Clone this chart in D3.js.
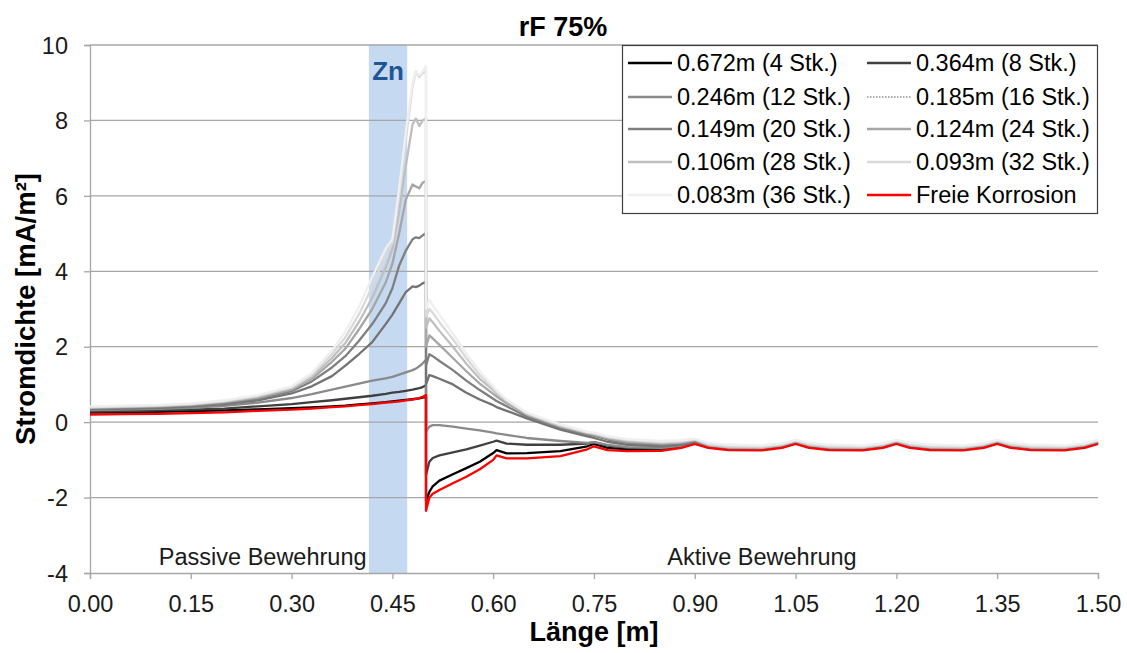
<!DOCTYPE html>
<html><head><meta charset="utf-8">
<script src="https://cdn.jsdelivr.net/npm/d3@7"></script>
<style>
body{margin:0;background:#fff}
svg{display:block}
text{font-family:"Liberation Sans",Arial,Helvetica,sans-serif}
</style>
</head><body>
<svg id="c" width="1127" height="653"></svg>
<script>
// ---------- data ----------
const xPassive = [0, 0.05, 0.1, 0.15, 0.2, 0.25, 0.3, 0.33, 0.36, 0.38, 0.4, 0.42, 0.44, 0.45, 0.46, 0.47, 0.48, 0.485, 0.49, 0.495, 0.5];
const xActive = [0.5, 0.505, 0.51, 0.52, 0.54, 0.56, 0.58, 0.6, 0.605, 0.62, 0.65, 0.7, 0.74, 0.75, 0.77, 0.8, 0.85, 0.88, 0.9,
  0.92, 0.95, 1.0, 1.03, 1.05, 1.07, 1.1, 1.15, 1.18, 1.2, 1.22, 1.25, 1.3, 1.33, 1.35, 1.37, 1.4, 1.45, 1.48, 1.5];

const s4 = [0.25, 0.26, 0.27, 0.29, 0.31, 0.34, 0.37, 0.39, 0.42, 0.44, 0.47, 0.5, 0.53, 0.55, 0.57, 0.59, 0.61, 0.62, 0.63, 0.65, 0.68,
  -2.1, -1.85, -1.7, -1.55, -1.38, -1.22, -1.05, -0.82, -0.74, -0.83, -0.82, -0.77, -0.64, -0.58, -0.68, -0.72, -0.72, -0.66, -0.57,
  -0.66, -0.72, -0.73, -0.66, -0.56, -0.66, -0.72, -0.73, -0.66, -0.56, -0.66, -0.72, -0.73, -0.66, -0.56, -0.66, -0.72, -0.73, -0.66, -0.56];
const s8 = [0.28, 0.29, 0.31, 0.33, 0.36, 0.42, 0.48, 0.53, 0.58, 0.62, 0.66, 0.7, 0.75, 0.78, 0.8, 0.83, 0.86, 0.88, 0.9, 0.93, 0.98,
  -1.4, -1.05, -0.95, -0.88, -0.8, -0.72, -0.62, -0.52, -0.49, -0.57, -0.6, -0.6, -0.57, -0.53, -0.62, -0.68, -0.7, -0.64, -0.56,
  -0.65, -0.71, -0.72, -0.65, -0.55, -0.65, -0.71, -0.72, -0.65, -0.55, -0.65, -0.71, -0.72, -0.65, -0.55, -0.65, -0.71, -0.72, -0.65, -0.55];
const s12 = [0.32, 0.33, 0.35, 0.38, 0.43, 0.52, 0.64, 0.74, 0.86, 0.94, 1.02, 1.1, 1.16, 1.2, 1.26, 1.32, 1.38, 1.42, 1.48, 1.56, 1.65,
  -0.25, -0.12, -0.08, -0.08, -0.12, -0.17, -0.22, -0.28, -0.3, -0.34, -0.42, -0.5, -0.55, -0.53, -0.6, -0.66, -0.68, -0.63, -0.55,
  -0.64, -0.7, -0.71, -0.64, -0.54, -0.64, -0.7, -0.71, -0.64, -0.54, -0.64, -0.7, -0.71, -0.64, -0.54, -0.64, -0.7, -0.71, -0.64, -0.54];
const s16 = [0.35, 0.36, 0.38, 0.42, 0.48, 0.58, 0.76, 0.95, 1.22, 1.5, 1.8, 2.12, 2.6, 2.85, 3.15, 3.45, 3.6, 3.58, 3.62, 3.68, 3.72,
  1.0, 1.25, 1.22, 1.15, 1.0, 0.78, 0.6, 0.45, 0.4, 0.3, 0.1, -0.2, -0.38, -0.42, -0.52, -0.6, -0.64, -0.6, -0.53,
  -0.63, -0.69, -0.7, -0.63, -0.53, -0.63, -0.69, -0.7, -0.63, -0.53, -0.63, -0.69, -0.7, -0.63, -0.53, -0.63, -0.69, -0.7, -0.63, -0.53];
const s20 = [0.37, 0.38, 0.4, 0.44, 0.5, 0.62, 0.82, 1.08, 1.45, 1.75, 2.15, 2.6, 3.15, 3.55, 4.15, 4.55, 4.85, 4.9, 4.88, 4.95, 5.02,
  1.5, 1.8, 1.75, 1.62, 1.38, 1.1, 0.85, 0.62, 0.56, 0.42, 0.15, -0.15, -0.33, -0.36, -0.46, -0.55, -0.6, -0.57, -0.5,
  -0.62, -0.68, -0.69, -0.62, -0.52, -0.62, -0.68, -0.69, -0.62, -0.52, -0.62, -0.68, -0.69, -0.62, -0.52, -0.62, -0.68, -0.69, -0.62, -0.52];
const s24 = [0.38, 0.4, 0.42, 0.46, 0.53, 0.65, 0.86, 1.15, 1.6, 1.95, 2.45, 3.0, 3.7, 4.2, 5.0, 5.9, 6.3, 6.25, 6.2, 6.35, 6.4,
  2.0, 2.3, 2.22, 2.05, 1.7, 1.35, 1.02, 0.75, 0.68, 0.5, 0.2, -0.12, -0.3, -0.33, -0.43, -0.52, -0.57, -0.54, -0.48,
  -0.61, -0.67, -0.68, -0.61, -0.51, -0.61, -0.67, -0.68, -0.61, -0.51, -0.61, -0.67, -0.68, -0.61, -0.51, -0.61, -0.67, -0.68, -0.61, -0.51];
const s28 = [0.39, 0.41, 0.43, 0.47, 0.55, 0.68, 0.9, 1.2, 1.7, 2.1, 2.65, 3.3, 4.1, 4.6, 5.6, 6.8, 7.9, 8.05, 7.85, 8.0, 8.05,
  2.5, 2.75, 2.65, 2.42, 2.0, 1.55, 1.15, 0.85, 0.76, 0.55, 0.22, -0.1, -0.28, -0.31, -0.4, -0.49, -0.55, -0.52, -0.46,
  -0.6, -0.66, -0.67, -0.6, -0.5, -0.6, -0.66, -0.67, -0.6, -0.5, -0.6, -0.66, -0.67, -0.6, -0.5, -0.6, -0.66, -0.67, -0.6, -0.5];
const s32 = [0.4, 0.42, 0.44, 0.48, 0.56, 0.7, 0.92, 1.25, 1.8, 2.25, 2.85, 3.6, 4.45, 4.75, 6.0, 7.5, 8.9, 9.3, 9.15, 9.25, 9.3,
  2.8, 3.0, 2.9, 2.65, 2.2, 1.7, 1.25, 0.9, 0.8, 0.58, 0.24, -0.08, -0.27, -0.3, -0.39, -0.47, -0.53, -0.5, -0.45,
  -0.58, -0.64, -0.65, -0.58, -0.48, -0.58, -0.64, -0.65, -0.58, -0.48, -0.58, -0.64, -0.65, -0.58, -0.48, -0.58, -0.64, -0.65, -0.58, -0.48];
const s36 = [0.42, 0.44, 0.46, 0.5, 0.58, 0.72, 0.95, 1.3, 1.9, 2.4, 3.05, 3.85, 4.6, 4.85, 6.2, 7.7, 9.0, 9.3, 9.2, 9.3, 9.45,
  3.0, 3.25, 3.1, 2.85, 2.35, 1.82, 1.35, 0.95, 0.85, 0.6, 0.25, -0.06, -0.25, -0.28, -0.37, -0.45, -0.5, -0.48, -0.44,
  -0.55, -0.6, -0.62, -0.56, -0.47, -0.55, -0.6, -0.62, -0.56, -0.47, -0.55, -0.6, -0.62, -0.56, -0.47, -0.55, -0.6, -0.62, -0.56, -0.47];
const sFree = [0.2, 0.21, 0.22, 0.24, 0.26, 0.3, 0.33, 0.36, 0.4, 0.42, 0.45, 0.48, 0.52, 0.53, 0.55, 0.58, 0.6, 0.62, 0.64, 0.67, 0.72,
  -2.35, -2.0, -1.9, -1.8, -1.62, -1.45, -1.25, -1.0, -0.88, -0.96, -0.96, -0.9, -0.72, -0.64, -0.74, -0.77, -0.76, -0.68, -0.58,
  -0.68, -0.74, -0.75, -0.68, -0.58, -0.68, -0.74, -0.75, -0.68, -0.58, -0.68, -0.74, -0.75, -0.68, -0.58, -0.68, -0.74, -0.75, -0.68, -0.58];

const seriesNames = ["0.672m (4 Stk.)", "0.364m (8 Stk.)", "0.246m (12 Stk.)", "0.185m (16 Stk.)", "0.149m (20 Stk.)",
  "0.124m (24 Stk.)", "0.106m (28 Stk.)", "0.093m (32 Stk.)", "0.083m (36 Stk.)", "Freie Korrosion"];
const seriesValues = [s4, s8, s12, s16, s20, s24, s28, s32, s36, sFree];
const seriesColors = ["#000000", "#404040", "#8a8a8a", "#737373", "#7f7f7f", "#a6a6a6", "#bfbfbf", "#d9d9d9", "#efefef", "#ff0000"];

const xTicks = [0, 0.15, 0.3, 0.45, 0.6, 0.75, 0.9, 1.05, 1.2, 1.35, 1.5];
const yTicks = [-4, -2, 0, 2, 4, 6, 8, 10];
const znBand = [0.415, 0.472];
const title = "rF 75%";
const xTitle = "Länge [m]";
const yTitle = "Stromdichte [mA/m²]";

// ---------- chart ----------
const X = xPassive.concat(xActive);
const svg = d3.select("#c");
const L = 90, R = 1098, T = 45, B = 573;
const x = d3.scaleLinear().domain([0, 1.5]).range([L, R]);
const y = d3.scaleLinear().domain([-4, 10]).range([B, T]);

// Zn band
svg.append("rect").attr("x", x(znBand[0])).attr("y", T)
  .attr("width", x(znBand[1]) - x(znBand[0])).attr("height", B - T)
  .attr("fill", "#c5d9f1");

// grid
svg.append("g").selectAll("line").data(yTicks.filter(d => d > -4)).join("line")
  .attr("x1", L).attr("x2", R).attr("y1", d => y(d)).attr("y2", d => y(d))
  .attr("stroke", "#a6a6a6").attr("stroke-width", 1.3);

// axes
const xAxis = svg.append("g").attr("transform", `translate(0,${B})`)
  .call(d3.axisBottom(x).tickValues(xTicks).tickFormat(d => d.toFixed(2)).tickSize(6).tickPadding(16));
const yAxis = svg.append("g").attr("transform", `translate(${L},0)`)
  .call(d3.axisLeft(y).tickValues(yTicks).tickFormat(d => String(d)).tickSize(6).tickPadding(16));
[xAxis, yAxis].forEach(a => {
  a.select(".domain").attr("stroke", "#a6a6a6").attr("stroke-width", 1.3);
  a.selectAll(".tick line").attr("stroke", "#a6a6a6").attr("stroke-width", 1.3);
  a.selectAll(".tick text").attr("font-size", 23.5).attr("fill", "#1a1a1a")
    .attr("font-family", '"Liberation Sans",Arial,sans-serif');
});
yAxis.selectAll(".tick text").attr("dy", "0.35em");

// region labels
svg.append("text").attr("x", x(0.257)).attr("y", 565).attr("text-anchor", "middle")
  .attr("font-size", 23.5).attr("fill", "#1a1a1a").text("Passive Bewehrung");
svg.append("text").attr("x", x(1.0)).attr("y", 565).attr("text-anchor", "middle")
  .attr("font-size", 23.5).attr("fill", "#1a1a1a").text("Aktive Bewehrung");

// Zn label
svg.append("text").attr("x", (x(znBand[0]) + x(znBand[1])) / 2).attr("y", 80).attr("text-anchor", "middle")
  .attr("font-size", 26).attr("font-weight", "bold").attr("fill", "#1f5597").text("Zn");

// lines
const line = d3.line().x((d, i) => x(X[i])).y(d => y(d));
seriesValues.forEach((vals, k) => {
  svg.append("path").datum(vals).attr("d", line)
    .attr("fill", "none").attr("stroke", seriesColors[k])
    .attr("stroke-width", 2.3).attr("stroke-linejoin", "round");
});

// titles
svg.append("text").attr("x", 563).attr("y", 36).attr("text-anchor", "middle")
  .attr("font-size", 27).attr("font-weight", "bold").attr("fill", "#000").text(title);
svg.append("text").attr("x", (L + R) / 2).attr("y", 641).attr("text-anchor", "middle")
  .attr("font-size", 27).attr("font-weight", "bold").attr("fill", "#000").text(xTitle);
svg.append("text").attr("transform", `translate(35,${(T + B) / 2}) rotate(-90)`).attr("text-anchor", "middle")
  .attr("font-size", 27.5).attr("font-weight", "bold").attr("fill", "#000").text(yTitle);

// legend
const lg = svg.append("g");
lg.append("rect").attr("x", 622.5).attr("y", 45.5).attr("width", 475).attr("height", 168)
  .attr("fill", "#fff").attr("stroke", "#404040").attr("stroke-width", 1.2);
const colX = [628, 867], rowY = [63, 97, 129, 162, 195];
seriesNames.forEach((name, k) => {
  const cx = colX[k % 2], cy = rowY[Math.floor(k / 2)];
  lg.append("line").attr("x1", cx).attr("x2", cx + 44).attr("y1", cy).attr("y2", cy)
    .attr("stroke", k === 3 ? "#595959" : seriesColors[k]).attr("stroke-width", k === 3 ? 1.2 : 2.3)
    .attr("stroke-dasharray", k === 3 ? "1.5,1.5" : null);
  lg.append("text").attr("x", cx + 49).attr("y", cy).attr("dy", "0.35em")
    .attr("font-size", 23.5).attr("fill", "#000").text(name);
});
</script>
</body></html>
